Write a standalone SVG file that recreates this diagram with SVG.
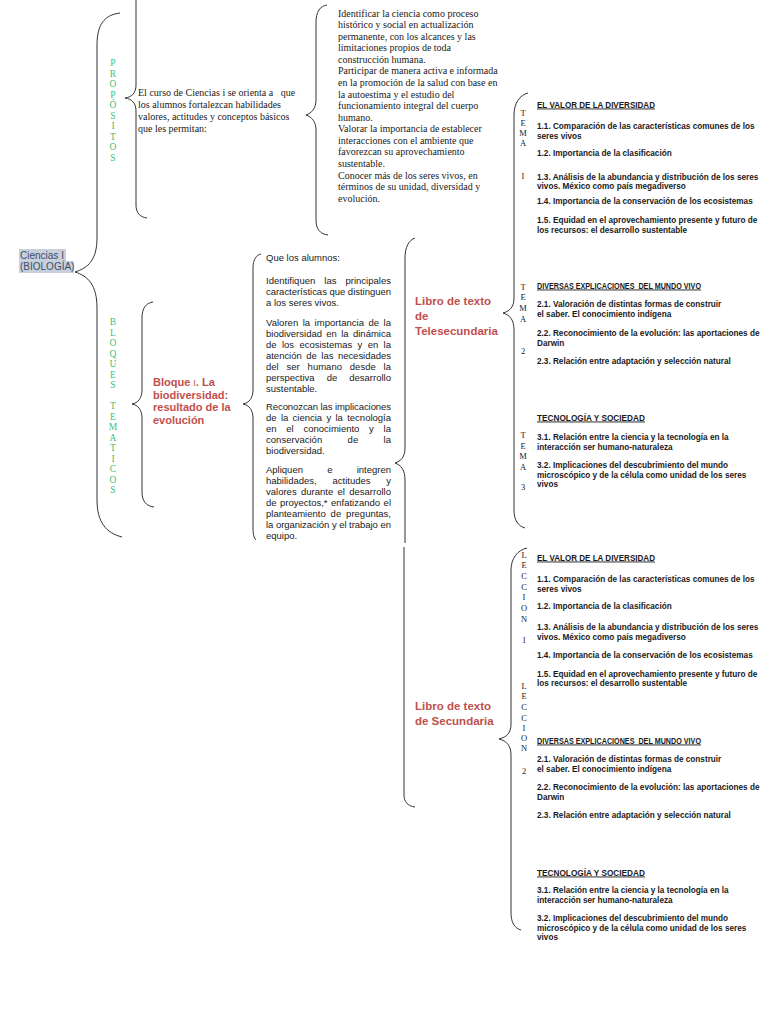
<svg xmlns="http://www.w3.org/2000/svg" width="768" height="1024" viewBox="0 0 768 1024">
<style>
.br{fill:none;stroke:#333;stroke-width:1}
.serif{font-family:"Liberation Serif","Times New Roman",serif}
.sans{font-family:"Liberation Sans",Arial,sans-serif}
.obj{font-family:"Liberation Serif","Times New Roman",serif;font-size:10px;fill:#1a1a1a}
.grn{font-family:"Liberation Serif","Times New Roman",serif;font-size:9.5px;fill:#3cbf78;text-anchor:middle}
.red{font-family:"Liberation Sans",Arial,sans-serif;font-weight:bold;fill:#c0504d}
.q{font-family:"Liberation Sans",Arial,sans-serif;font-size:9.5px;fill:#1a1a1a}
.it{font-family:"Liberation Sans",Arial,sans-serif;font-size:8.2px;font-weight:bold;fill:#1a1a1a}
.hd{font-family:"Liberation Sans",Arial,sans-serif;font-size:9px;font-weight:bold;fill:#1a1a1a;text-decoration:underline}
.vl{font-family:"Liberation Serif","Times New Roman",serif;font-size:8.5px;fill:#222;text-anchor:middle}
</style>
<rect width="768" height="1024" fill="#fff"/>

<g id="connectors">
<path class="br" d="M120,13 C104,15 97,25 97,45 L97,238 C97,260 88,268 75,272 C88,276 97,285 97,308 L97,500 C97,522 106,533 122,537"/>
<path class="br" d="M136,-5 L136,85 C136,93 132,97 125,98 C132,99 136,103 136,111 L136,205 C136,213 140,217 147,218"/>
<path class="br" d="M327,5 C320,6 316,12 316,22 L316,100 C316,108 312,113 306,115 C312,117 316,122 316,130 L316,220 C316,229 320,234 328,235"/>
<path class="br" d="M153,302 C146,303 142,308 142,318 L142,390 C142,398 138,403 132,404 C138,405 142,410 142,418 L142,492 C142,501 146,506 154,507"/>
<path class="br" d="M261,254 C256,255 253,260 253,268 L253,390 C253,398 249,403 243,404 C249,405 253,410 253,418 L253,528 C253,534 254,538 256,540"/>
<path class="br" d="M415,238 C409,240 405,247 405,258 L405,448 C405,457 401,461 395,463 C401,465 405,470 405,480 L405,543"/>
<path class="br" d="M404,547 L404,795 C404,802 408,806 415,807"/>
<path class="br" d="M528,93 C520,95 514,103 514,115 L514,298 C514,307 510,311 503,313 C510,315 514,320 514,330 L514,510 C514,520 518,526 525,528"/>
<path class="br" d="M527,548 C518,550 511,558 511,570 L511,724 C511,733 507,737 499,739 C507,741 511,746 511,755 L511,912 C511,922 514,928 521,930"/>
</g>

<g id="n-ciencias">
<rect x="19" y="249" width="47" height="12" fill="#c8d0dc"/>
<rect x="19" y="261" width="55" height="12" fill="#c8d0dc"/>
<text class="sans" font-size="10" fill="#3c4d6b"><tspan x="20" y="258.5">Ciencias I</tspan><tspan x="20" y="270">(BIOLOGÍA)</tspan></text>
</g>

<g id="n-propositos">
<text class="grn"><tspan x="113" y="66">P</tspan><tspan x="113" y="76.5">R</tspan><tspan x="113" y="87">O</tspan><tspan x="113" y="97.5">P</tspan><tspan x="113" y="108">Ó</tspan><tspan x="113" y="118.5">S</tspan><tspan x="113" y="129">I</tspan><tspan x="113" y="139.5">T</tspan><tspan x="113" y="150">O</tspan><tspan x="113" y="160.5">S</tspan></text>
</g>

<g id="n-curso">
<text class="obj" xml:space="preserve"><tspan x="138" y="95.5">El curso de Ciencias i se orienta a   que</tspan><tspan x="138" y="107.5">los alumnos fortalezcan habilidades</tspan><tspan x="138" y="119.5">valores, actitudes y conceptos básicos</tspan><tspan x="138" y="131.5">que les permitan:</tspan></text>
</g>

<g id="n-objetivos">
<text class="obj">
<tspan x="338" y="16.5">Identificar la ciencia como proceso</tspan>
<tspan x="338" y="28.1">histórico y social en actualización</tspan>
<tspan x="338" y="39.6">permanente, con los alcances y las</tspan>
<tspan x="338" y="51.2">limitaciones propios de toda</tspan>
<tspan x="338" y="62.8">construcción humana.</tspan>
<tspan x="338" y="74.4">Participar de manera activa e informada</tspan>
<tspan x="338" y="85.9">en la promoción de la salud con base en</tspan>
<tspan x="338" y="97.5">la autoestima y el estudio del</tspan>
<tspan x="338" y="109.1">funcionamiento integral del cuerpo</tspan>
<tspan x="338" y="120.6">humano.</tspan>
<tspan x="338" y="132.2">Valorar la importancia de establecer</tspan>
<tspan x="338" y="143.8">interacciones con el ambiente que</tspan>
<tspan x="338" y="155.3">favorezcan su aprovechamiento</tspan>
<tspan x="338" y="166.9">sustentable.</tspan>
<tspan x="338" y="178.5">Conocer más de los seres vivos, en</tspan>
<tspan x="338" y="190.1">términos de su unidad, diversidad y</tspan>
<tspan x="338" y="201.6">evolución.</tspan>
</text>
</g>

<g id="n-bloques">
<text class="grn"><tspan x="113" y="325">B</tspan><tspan x="113" y="335.5">L</tspan><tspan x="113" y="346">O</tspan><tspan x="113" y="356.5">Q</tspan><tspan x="113" y="367">U</tspan><tspan x="113" y="377.5">E</tspan><tspan x="113" y="388">S</tspan><tspan x="113" y="409">T</tspan><tspan x="113" y="419.5">E</tspan><tspan x="113" y="430">M</tspan><tspan x="113" y="440.5">A</tspan><tspan x="113" y="451">T</tspan><tspan x="113" y="461.5">I</tspan><tspan x="113" y="472">C</tspan><tspan x="113" y="482.5">O</tspan><tspan x="113" y="493">S</tspan></text>
</g>

<g id="n-bloque1">
<text class="red" font-size="11"><tspan x="153" y="386">Bloque <tspan font-weight="normal" font-size="9">I</tspan>. La</tspan><tspan x="153" y="398.5">biodiversidad:</tspan><tspan x="153" y="411">resultado de la</tspan><tspan x="153" y="423.5">evolución</tspan></text>
</g>

<g id="n-que-alumnos" class="q">
<text x="266" y="261.3">Que los alumnos:</text>
<text x="266" y="284.3" textLength="125" lengthAdjust="spacing" word-spacing="6.3">Identifiquen las principales</text>
<text x="266" y="295.3" textLength="125" lengthAdjust="spacing">características que distinguen</text>
<text x="266" y="306.3">a los seres vivos.</text>
<text x="266" y="326.3" textLength="125" lengthAdjust="spacing" word-spacing="1.8">Valoren la importancia de la</text>
<text x="266" y="337.3" textLength="125" lengthAdjust="spacing" word-spacing="1.7">biodiversidad en la dinámica</text>
<text x="266" y="348.3" textLength="125" lengthAdjust="spacing" word-spacing="2.7">de los ecosistemas y en la</text>
<text x="266" y="359.3" textLength="125" lengthAdjust="spacing" word-spacing="1.9">atención de las necesidades</text>
<text x="266" y="370.3" textLength="125" lengthAdjust="spacing" word-spacing="5.2">del ser humano desde la</text>
<text x="266" y="381.3" textLength="125" lengthAdjust="spacing" word-spacing="9.4">perspectiva de desarrollo</text>
<text x="266" y="392.3">sustentable.</text>
<text x="266" y="410.3" textLength="125" lengthAdjust="spacing">Reconozcan las implicaciones</text>
<text x="266" y="421.3" textLength="125" lengthAdjust="spacing" word-spacing="1.7">de la ciencia y la tecnología</text>
<text x="266" y="432.3" textLength="125" lengthAdjust="spacing" word-spacing="7.1">en el conocimiento y la</text>
<text x="266" y="443.3" textLength="125" lengthAdjust="spacing" word-spacing="22.7">conservación de la</text>
<text x="266" y="454.3">biodiversidad.</text>
<text x="266" y="473.3" textLength="125" lengthAdjust="spacing" word-spacing="21.6">Apliquen e integren</text>
<text x="266" y="484.3" textLength="125" lengthAdjust="spacing" word-spacing="13.1">habilidades, actitudes y</text>
<text x="266" y="495.3" textLength="125" lengthAdjust="spacing" word-spacing="1.7">valores durante el desarrollo</text>
<text x="266" y="506.3" textLength="125" lengthAdjust="spacing" word-spacing="0.8">de proyectos,* enfatizando el</text>
<text x="266" y="517.3" textLength="125" lengthAdjust="spacing" word-spacing="2.3">planteamiento de preguntas,</text>
<text x="266" y="528.3" textLength="125" lengthAdjust="spacing">la organización y el trabajo en</text>
<text x="266" y="538.8">equipo.</text>
</g>

<g id="n-libro-tele">
<text class="red" font-size="11.5"><tspan x="415" y="305">Libro de texto</tspan><tspan x="415" y="320">de</tspan><tspan x="415" y="335">Telesecundaria</tspan></text>
</g>

<g id="n-libro-sec">
<text class="red" font-size="11.5"><tspan x="415" y="710">Libro de texto</tspan><tspan x="415" y="725">de Secundaria</tspan></text>
</g>

<g id="n-tema1">
<text class="vl"><tspan x="523" y="116">T</tspan><tspan x="523" y="126">E</tspan><tspan x="523" y="135.5">M</tspan><tspan x="523" y="145.5">A</tspan><tspan x="523" y="179">I</tspan></text>
<text class="hd" x="537" y="107.5" textLength="118" lengthAdjust="spacingAndGlyphs">EL VALOR DE LA DIVERSIDAD</text>
<text class="it"><tspan x="537" y="129">1.1. Comparación de las características comunes de los</tspan><tspan x="537" y="138.5">seres vivos</tspan><tspan x="537" y="156">1.2. Importancia de la clasificación</tspan><tspan x="537" y="179.5">1.3. Análisis de la abundancia y distribución de los seres</tspan><tspan x="537" y="189">vivos. México como país megadiverso</tspan><tspan x="537" y="204">1.4. Importancia de la conservación de los ecosistemas</tspan><tspan x="537" y="223">1.5. Equidad en el aprovechamiento presente y futuro de</tspan><tspan x="537" y="232.5">los recursos: el desarrollo sustentable</tspan></text>
</g>

<g id="n-tema2">
<text class="vl"><tspan x="523" y="290">T</tspan><tspan x="523" y="300">E</tspan><tspan x="523" y="311">M</tspan><tspan x="523" y="322">A</tspan><tspan x="523" y="354">2</tspan></text>
<text class="hd" x="537" y="288.5" xml:space="preserve" textLength="164" lengthAdjust="spacingAndGlyphs">DIVERSAS EXPLICACIONES  DEL MUNDO VIVO</text>
<text class="it"><tspan x="537" y="307">2.1. Valoración de distintas formas de construir</tspan><tspan x="537" y="316.5">el saber. El conocimiento indígena</tspan><tspan x="537" y="336">2.2. Reconocimiento de la evolución: las aportaciones de</tspan><tspan x="537" y="345.5">Darwin</tspan><tspan x="537" y="364">2.3. Relación entre adaptación y selección natural</tspan></text>
</g>

<g id="n-tema3">
<text class="vl"><tspan x="523" y="438">T</tspan><tspan x="523" y="449">E</tspan><tspan x="523" y="459">M</tspan><tspan x="523" y="470">A</tspan><tspan x="523" y="490">3</tspan></text>
<text class="hd" x="537" y="420.5" textLength="108" lengthAdjust="spacingAndGlyphs">TECNOLOGÍA Y SOCIEDAD</text>
<text class="it"><tspan x="537" y="440">3.1. Relación entre la ciencia y la tecnología en la</tspan><tspan x="537" y="449.5">interacción ser humano-naturaleza</tspan><tspan x="537" y="468">3.2. Implicaciones del descubrimiento del mundo</tspan><tspan x="537" y="477.5">microscópico y de la célula como unidad de los seres</tspan><tspan x="537" y="487">vivos</tspan></text>
</g>

<g id="n-leccion1">
<text class="vl"><tspan x="524" y="558">L</tspan><tspan x="524" y="568">E</tspan><tspan x="524" y="579">C</tspan><tspan x="524" y="590">C</tspan><tspan x="524" y="600">I</tspan><tspan x="524" y="611">O</tspan><tspan x="524" y="622">N</tspan><tspan x="524" y="643">1</tspan></text>
<text class="hd" x="537" y="560.5" textLength="118" lengthAdjust="spacingAndGlyphs">EL VALOR DE LA DIVERSIDAD</text>
<text class="it"><tspan x="537" y="582">1.1. Comparación de las características comunes de los</tspan><tspan x="537" y="591.5">seres vivos</tspan><tspan x="537" y="609">1.2. Importancia de la clasificación</tspan><tspan x="537" y="630">1.3. Análisis de la abundancia y distribución de los seres</tspan><tspan x="537" y="639.5">vivos. México como país megadiverso</tspan><tspan x="537" y="658">1.4. Importancia de la conservación de los ecosistemas</tspan><tspan x="537" y="676.5">1.5. Equidad en el aprovechamiento presente y futuro de</tspan><tspan x="537" y="686">los recursos: el desarrollo sustentable</tspan></text>
</g>

<g id="n-leccion2">
<text class="vl"><tspan x="524" y="689">L</tspan><tspan x="524" y="699">E</tspan><tspan x="524" y="710">C</tspan><tspan x="524" y="721">C</tspan><tspan x="524" y="731">I</tspan><tspan x="524" y="741">O</tspan><tspan x="524" y="751">N</tspan><tspan x="524" y="774">2</tspan></text>
<text class="hd" x="537" y="743.5" xml:space="preserve" textLength="164" lengthAdjust="spacingAndGlyphs">DIVERSAS EXPLICACIONES  DEL MUNDO VIVO</text>
<text class="it"><tspan x="537" y="762">2.1. Valoración de distintas formas de construir</tspan><tspan x="537" y="771.5">el saber. El conocimiento indígena</tspan><tspan x="537" y="790">2.2. Reconocimiento de la evolución: las aportaciones de</tspan><tspan x="537" y="799.5">Darwin</tspan><tspan x="537" y="818">2.3. Relación entre adaptación y selección natural</tspan></text>
</g>

<g id="n-tecnologia-sec">
<text class="hd" x="537" y="875.5" textLength="108" lengthAdjust="spacingAndGlyphs">TECNOLOGÍA Y SOCIEDAD</text>
<text class="it"><tspan x="537" y="893">3.1. Relación entre la ciencia y la tecnología en la</tspan><tspan x="537" y="902.5">interacción ser humano-naturaleza</tspan><tspan x="537" y="921">3.2. Implicaciones del descubrimiento del mundo</tspan><tspan x="537" y="930.5">microscópico y de la célula como unidad de los seres</tspan><tspan x="537" y="940">vivos</tspan></text>
</g>
</svg>
